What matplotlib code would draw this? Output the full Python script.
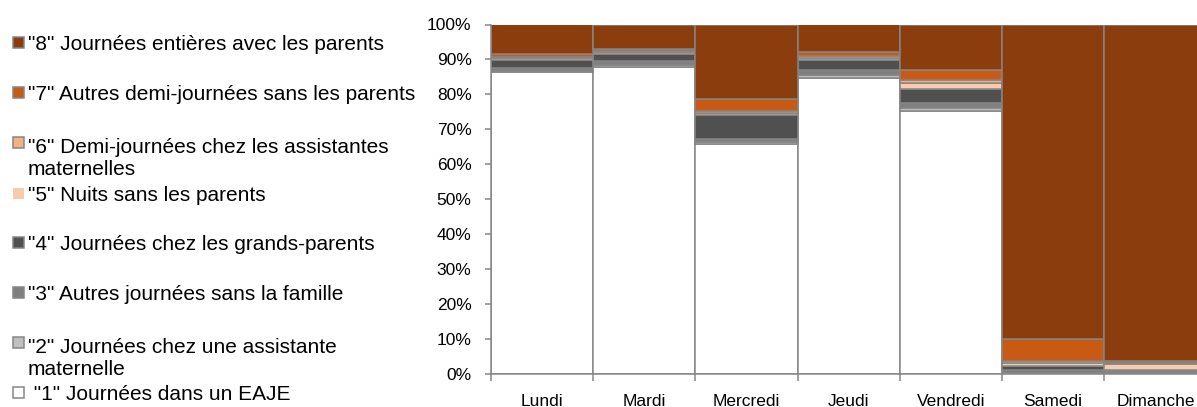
import matplotlib.pyplot as plt
from matplotlib.patches import Rectangle
from matplotlib.ticker import FuncFormatter, FixedLocator

plt.rcParams["font.family"] = ["Liberation Sans", "DejaVu Sans"]

jours = ["Lundi", "Mardi", "Mercredi", "Jeudi", "Vendredi", "Samedi", "Dimanche"]

# parts (%) par jour, du bas vers le haut
eaje = [86.3, 87.9, 65.8, 84.7, 75.2, 0.0, 0.0]
assistante = [0.5, 0.6, 0.6, 1.0, 1.0, 0.5, 0.4]
autres_jours = [0.8, 1.1, 1.0, 1.4, 1.4, 0.7, 0.6]
grands_parents = [2.3, 2.1, 6.8, 2.7, 4.1, 1.3, 0.2]
nuits = [0.5, 0.3, 0.5, 0.5, 1.6, 0.8, 1.7]
demi_assist = [0.4, 0.5, 0.5, 0.6, 0.8, 0.4, 0.3]
demi_autres = [0.9, 0.6, 3.6, 1.2, 2.8, 6.3, 0.6]
parents = [8.3, 6.9, 21.2, 7.9, 13.1, 90.0, 96.2]

labels = [
    ' "1" Journées dans un EAJE',
    '"2" Journées chez une assistante\nmaternelle',
    '"3" Autres journées sans la famille',
    '"4" Journées chez les grands-parents',
    '"5" Nuits sans les parents',
    '"6" Demi-journées chez les assistantes\nmaternelles',
    '"7" Autres demi-journées sans les parents',
    '"8" Journées entières avec les parents',
]
series = [eaje, assistante, autres_jours, grands_parents, nuits,
          demi_assist, demi_autres, parents]
colors = ["#FFFFFF", "#BFBFBF", "#7F7F7F", "#505050", "#F8CBAD",
          "#F4B183", "#C95A14", "#8B3D0E"]
edge = "#868686"

W, H = 1197, 407
fig = plt.figure(figsize=(W / 100, H / 100), dpi=100)
ax = fig.add_axes([491 / W, 32.7 / H, 715.5 / W, 349.8 / H])

x = list(range(len(jours)))
bottom = [0.0] * len(jours)
for vals, col in zip(series, colors):
    ax.bar(x, vals, bottom=bottom, width=1.0, color=col,
           edgecolor=edge, linewidth=1.1, zorder=2)
    bottom = [b + v for b, v in zip(bottom, vals)]

ax.set_xlim(-0.5, len(jours) - 0.5)
ax.set_ylim(0, 100)
ax.set_yticks(range(0, 101, 10))
ax.yaxis.set_major_formatter(FuncFormatter(lambda v, p: f"{int(v)}%"))

ax.xaxis.set_major_locator(FixedLocator([i - 0.5 for i in range(len(jours) + 1)]))
ax.xaxis.set_minor_locator(FixedLocator(x))
ax.set_xticklabels([], minor=False)
ax.set_xticklabels(jours, minor=True)
ax.tick_params(axis="x", which="major", length=5, width=1.1, color=edge)
ax.tick_params(axis="x", which="minor", length=0, pad=14, labelsize=12.5)
ax.tick_params(axis="y", length=4.5, width=1.1, color=edge, pad=9.5,
               labelsize=12.5)

for s in ["top", "right"]:
    ax.spines[s].set_visible(False)
for s in ["left", "bottom"]:
    ax.spines[s].set_color(edge)
    ax.spines[s].set_linewidth(1.1)
    ax.spines[s].set_zorder(3)

# legende manuelle, du haut vers le bas ("8" en premier)
centers = [392.5, 342.7, 292.7, 242.7, 193.3, 142.7, 92.7, 42.7]
line_h = 24.5
for lab, col, cy in zip(labels, colors, centers):
    ec = "none" if col == "#F8CBAD" else edge
    fig.add_artist(Rectangle((12.7 / W, 1 - (cy + 5.5) / H), 11 / W, 11 / H,
                             transform=fig.transFigure, facecolor=col,
                             edgecolor=ec, linewidth=1.1))
    extra = lab.count("\n") * line_h
    fig.text(28 / W, 1 - (cy + 7.5 + extra) / H, lab, fontsize=15,
             va="baseline", ha="left", linespacing=1.15)

fig.savefig("out.png", dpi=100)
